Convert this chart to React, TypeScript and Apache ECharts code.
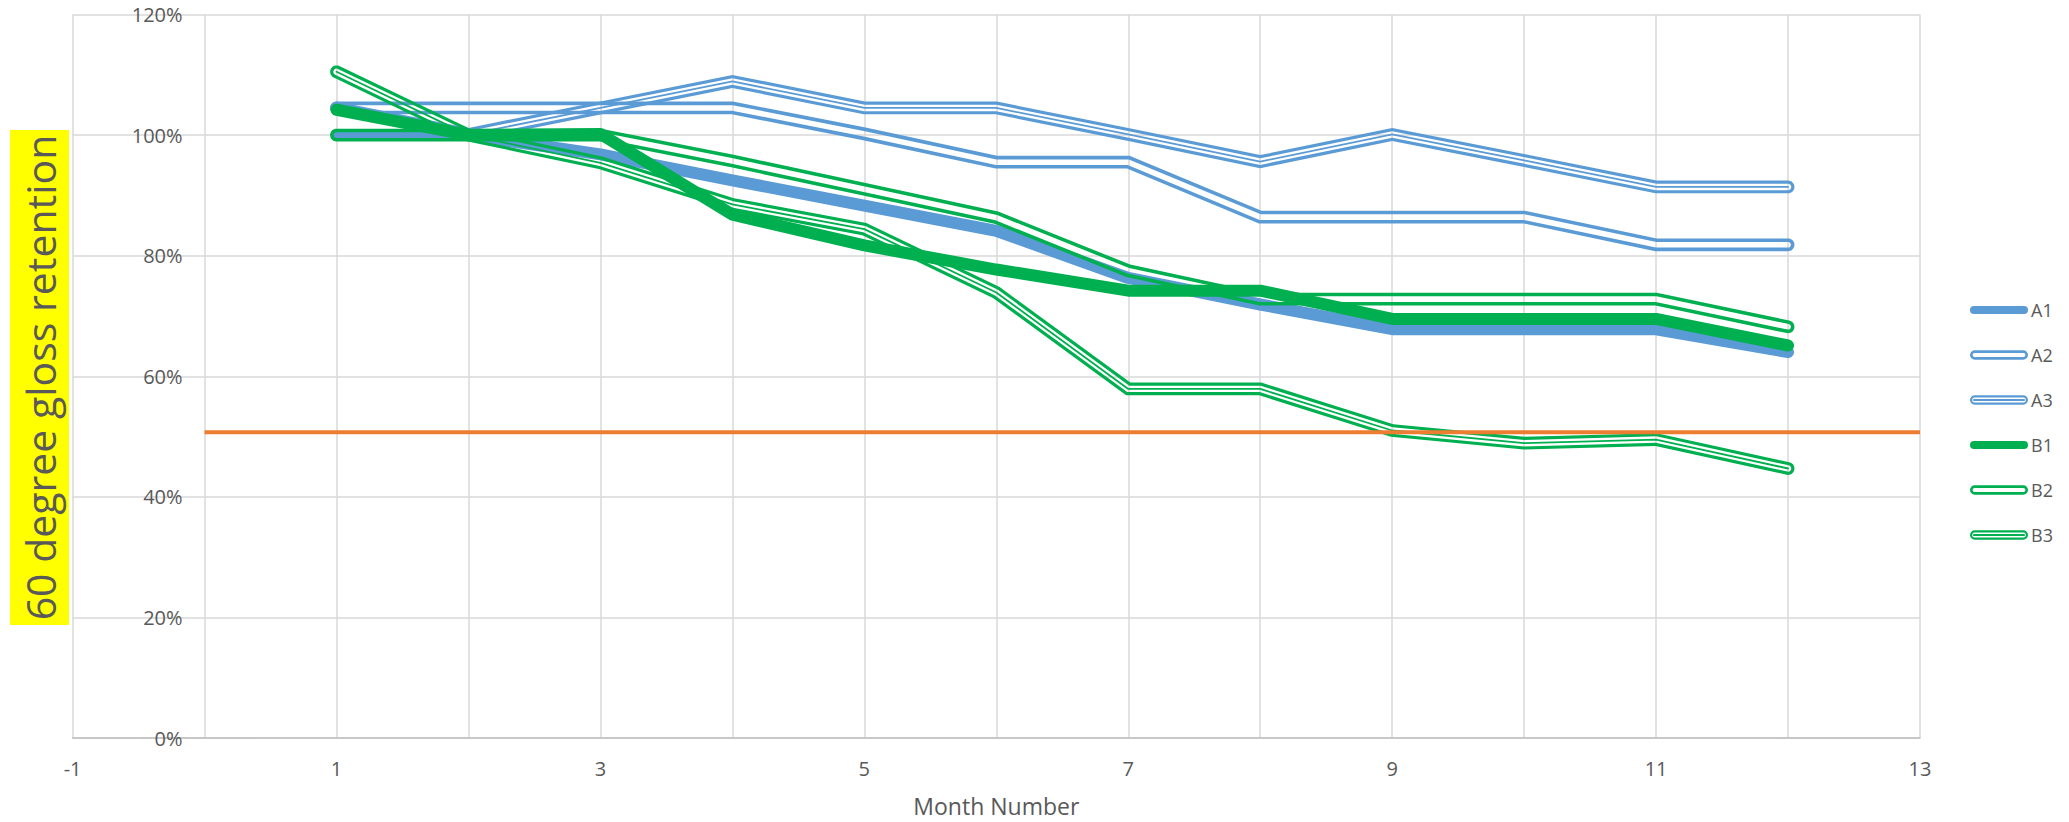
import React, { useEffect, useRef } from 'react';
import * as echarts from 'echarts';

// ---------- data ----------
const months = [1, 2, 3, 4, 5, 6, 7, 8, 9, 10, 11, 12];
const seriesNames = ['A1', 'A2', 'A3', 'B1', 'B2', 'B3'];
const a1 = [100, 100, 96.8, 92.5, 88.3, 84.1, 76.3, 71.9, 67.8, 67.8, 67.8, 64.0];
const a2 = [104.5, 104.5, 104.5, 104.5, 100.2, 95.5, 95.5, 86.4, 86.4, 86.4, 81.8, 81.8];
const a3 = [104.5, 100.1, 104.5, 108.9, 104.5, 104.5, 100.1, 95.6, 100.1, 95.8, 91.4, 91.4];
const b1 = [104.2, 100, 100.2, 86.8, 81.7, 77.7, 74.2, 74.2, 69.5, 69.5, 69.5, 65.1];
const b2 = [100, 100, 100, 95.7, 91.0, 86.3, 77.5, 72.8, 72.8, 72.8, 72.8, 68.2];
const b3 = [110.5, 100, 95.4, 88.5, 84.4, 73.9, 57.9, 57.9, 51.0, 48.9, 49.5, 44.7];
const thresholdX = [0, 13];
const thresholdValue = 50.7;
const yTitle = '60 degree gloss retention';
const xTitle = 'Month Number';

// ---------- styles ----------
const BLUE = '#5b9bd5';
const GREEN = '#00b050';
const ORANGE = '#ed7d31';
const TEXT = '#595959';
const GRID = '#d9d9d9';
const FONT = '"Open Sans", "Noto Sans", sans-serif';
const W = 12.8; // compound line total width
const OUTER2 = 3.6; // double-line stripe width
const OUTER3 = 3.2; // triple-line outer stripe
const CENTER3 = 1.8; // triple-line center stripe
const THICK = 12;
const GRID_LEFT = 72.6;
const GRID_RIGHT = 149;
const X_MIN = -1;
const X_MAX = 13;

type Pt = [number, number];

function segInfo(p: Pt, q: Pt) {
  const dx = q[0] - p[0];
  const dy = q[1] - p[1];
  const L = Math.hypot(dx, dy) || 1;
  return { u: [dx / L, dy / L], n: [-dy / L, dx / L] };
}

function offsetSide(pts: Pt[], r: number): Pt[] {
  const n = pts.length;
  const out: Pt[] = [];
  for (let i = 0; i < n; i++) {
    if (i === 0) {
      const s = segInfo(pts[0], pts[1]);
      out.push([pts[0][0] + s.n[0] * r, pts[0][1] + s.n[1] * r]);
    } else if (i === n - 1) {
      const s = segInfo(pts[n - 2], pts[n - 1]);
      out.push([pts[i][0] + s.n[0] * r, pts[i][1] + s.n[1] * r]);
    } else {
      const a = segInfo(pts[i - 1], pts[i]).n;
      const b = segInfo(pts[i], pts[i + 1]).n;
      let mx = a[0] + b[0];
      let my = a[1] + b[1];
      const ml = Math.hypot(mx, my) || 1;
      mx /= ml;
      my /= ml;
      const d = r / (mx * a[0] + my * a[1]);
      out.push([pts[i][0] + mx * d, pts[i][1] + my * d]);
    }
  }
  return out;
}

function loop(pts: Pt[], r: number): Pt[] {
  const n = pts.length;
  const N = 16;
  const out: Pt[] = [];
  out.push(...offsetSide(pts, r));
  const e = segInfo(pts[n - 2], pts[n - 1]);
  const E = pts[n - 1];
  for (let k = 1; k < N; k++) {
    const t = (Math.PI * k) / N;
    out.push([
      E[0] + r * (e.n[0] * Math.cos(t) + e.u[0] * Math.sin(t)),
      E[1] + r * (e.n[1] * Math.cos(t) + e.u[1] * Math.sin(t)),
    ]);
  }
  out.push(...offsetSide(pts, -r).reverse());
  const s = segInfo(pts[0], pts[1]);
  const S = pts[0];
  for (let k = 1; k < N; k++) {
    const t = (Math.PI * k) / N;
    out.push([
      S[0] + r * (-s.n[0] * Math.cos(t) - s.u[0] * Math.sin(t)),
      S[1] + r * (-s.n[1] * Math.cos(t) - s.u[1] * Math.sin(t)),
    ]);
  }
  return out;
}

function toPath(l: Pt[]): string {
  return 'M' + l.map((p) => p[0].toFixed(2) + ',' + p[1].toFixed(2)).join('L') + 'Z';
}

function compoundSeries(name: string, vals: number[], color: string, triple: boolean, z: number) {
  return {
    type: 'custom',
    name,
    data: months.map((m, i) => [m, vals[i]]),
    encode: { x: 0, y: 1 },
    clip: false,
    z,
    renderItem: (params: any, api: any) => {
      if (params.dataIndex !== 0) return null;
      const pts = months.map((m, i) => api.coord([m, vals[i]]) as Pt);
      const R = W / 2;
      const rin = R - (triple ? OUTER3 : OUTER2);
      const d = toPath(loop(pts, R)) + toPath(loop(pts, rin).reverse());
      const children: any[] = [
        { type: 'path', shape: { pathData: d }, style: { fill: color, stroke: null } },
      ];
      if (triple) {
        children.push({
          type: 'polyline',
          shape: { points: pts },
          style: { stroke: color, lineWidth: CENTER3, fill: null, lineCap: 'round', lineJoin: 'round' },
        });
      }
      return { type: 'group', children };
    },
  };
}

function solidSeries(name: string, vals: number[], color: string, z: number) {
  return {
    type: 'line',
    name,
    data: months.map((m, i) => [m, vals[i]]),
    showSymbol: false,
    symbol: 'none',
    z,
    lineStyle: { color, width: THICK, cap: 'round', join: 'round' },
    itemStyle: { color },
  };
}

// legend drawn as graphic
const legendStyles: { color: string; kind: 'solid' | 'double' | 'triple' }[] = [
  { color: BLUE, kind: 'solid' },
  { color: BLUE, kind: 'double' },
  { color: BLUE, kind: 'triple' },
  { color: GREEN, kind: 'solid' },
  { color: GREEN, kind: 'double' },
  { color: GREEN, kind: 'triple' },
];

function legendGraphics() {
  const els: any[] = [];
  const x0 = 1970;
  const w = 58;
  seriesNames.forEach((name, i) => {
    const cy = 310 + 45 * i;
    const st = legendStyles[i];
    if (st.kind === 'solid') {
      els.push({ type: 'rect', shape: { x: x0, y: cy - 4, width: w, height: 8, r: 4 }, style: { fill: st.color } });
    } else {
      const h = 9.4;
      els.push({ type: 'rect', shape: { x: x0, y: cy - h / 2, width: w, height: h, r: h / 2 }, style: { fill: st.color } });
      const gh = st.kind === 'double' ? 4.2 : 5.0;
      const inset = (h - gh) / 2;
      els.push({
        type: 'rect',
        shape: { x: x0 + inset, y: cy - gh / 2, width: w - inset * 2, height: gh, r: gh / 2 },
        style: { fill: '#ffffff' },
      });
      if (st.kind === 'triple') {
        const ch = 1.8;
        els.push({
          type: 'rect',
          shape: { x: x0 + inset + 1, y: cy - ch / 2, width: w - inset * 2 - 2, height: ch },
          style: { fill: st.color },
        });
      }
    }
    els.push({
      type: 'text',
      x: x0 + w + 3,
      y: cy,
      style: { text: name, fontSize: 18, fontFamily: FONT, fill: TEXT, align: 'left', verticalAlign: 'middle' },
    });
  });
  return els;
}

export default function App() {
  const ref = useRef<HTMLDivElement>(null);
  useEffect(() => {
    if (!ref.current) return;
    const chart = echarts.init(ref.current, undefined, { renderer: 'svg' });
    const plotWidth = 2069 - GRID_LEFT - GRID_RIGHT;
    const unitPx = plotWidth / (X_MAX - X_MIN);
    const option: any = {
      animation: false,
      backgroundColor: '#ffffff',
      textStyle: { fontFamily: FONT },
      grid: { left: GRID_LEFT, right: GRID_RIGHT, top: 14.5, bottom: 82, containLabel: false },
      xAxis: {
        type: 'value',
        min: X_MIN,
        max: X_MAX,
        interval: 1,
        name: xTitle,
        nameLocation: 'middle',
        nameGap: 56,
        nameTextStyle: { fontSize: 23, color: TEXT, fontFamily: FONT },
        axisLine: { show: true, onZero: false, lineStyle: { color: '#bfbfbf', width: 1.5 } },
        axisTick: { show: false },
        axisLabel: {
          fontSize: 20,
          color: TEXT,
          fontFamily: FONT,
          margin: 20,
          formatter: (v: number) => (((v % 2) + 2) % 2 === 1 ? String(v) : ''),
        },
        splitLine: { show: true, lineStyle: { color: GRID, width: 1.5 } },
      },
      yAxis: {
        type: 'value',
        min: 0,
        max: 120,
        interval: 20,
        offset: -(0 - X_MIN) * unitPx,
        axisLine: { show: false, onZero: false },
        axisTick: { show: false },
        axisLabel: { fontSize: 20, color: TEXT, fontFamily: FONT, margin: 22, formatter: '{value}%' },
        splitLine: { show: true, lineStyle: { color: GRID, width: 1.5 } },
      },
      graphic: [
        { type: 'rect', shape: { x: 10, y: 130, width: 59, height: 495 }, style: { fill: '#ffff00' }, z: 1 },
        {
          type: 'text',
          x: 40,
          y: 377.5,
          rotation: Math.PI / 2,
          z: 2,
          style: {
            text: yTitle,
            fontSize: 41,
            fontFamily: FONT,
            fill: TEXT,
            align: 'center',
            verticalAlign: 'middle',
          },
        },
        ...legendGraphics(),
      ],
      series: [
        solidSeries('A1', a1, BLUE, 2),
        compoundSeries('A2', a2, BLUE, false, 3),
        compoundSeries('A3', a3, BLUE, true, 4),
        solidSeries('B1', b1, GREEN, 5),
        compoundSeries('B2', b2, GREEN, false, 6),
        compoundSeries('B3', b3, GREEN, true, 7),
        {
          type: 'line',
          name: 'threshold',
          data: thresholdX.map((x) => [x, thresholdValue]),
          showSymbol: false,
          symbol: 'none',
          z: 8,
          lineStyle: { color: ORANGE, width: 4, cap: 'butt' },
        },
      ],
    };
    chart.setOption(option);
    return () => chart.dispose();
  }, []);
  return (
    <div
      ref={ref}
      style={{ position: 'absolute', left: 0, top: 0, width: 2069, height: 822, background: '#fff' }}
    />
  );
}
